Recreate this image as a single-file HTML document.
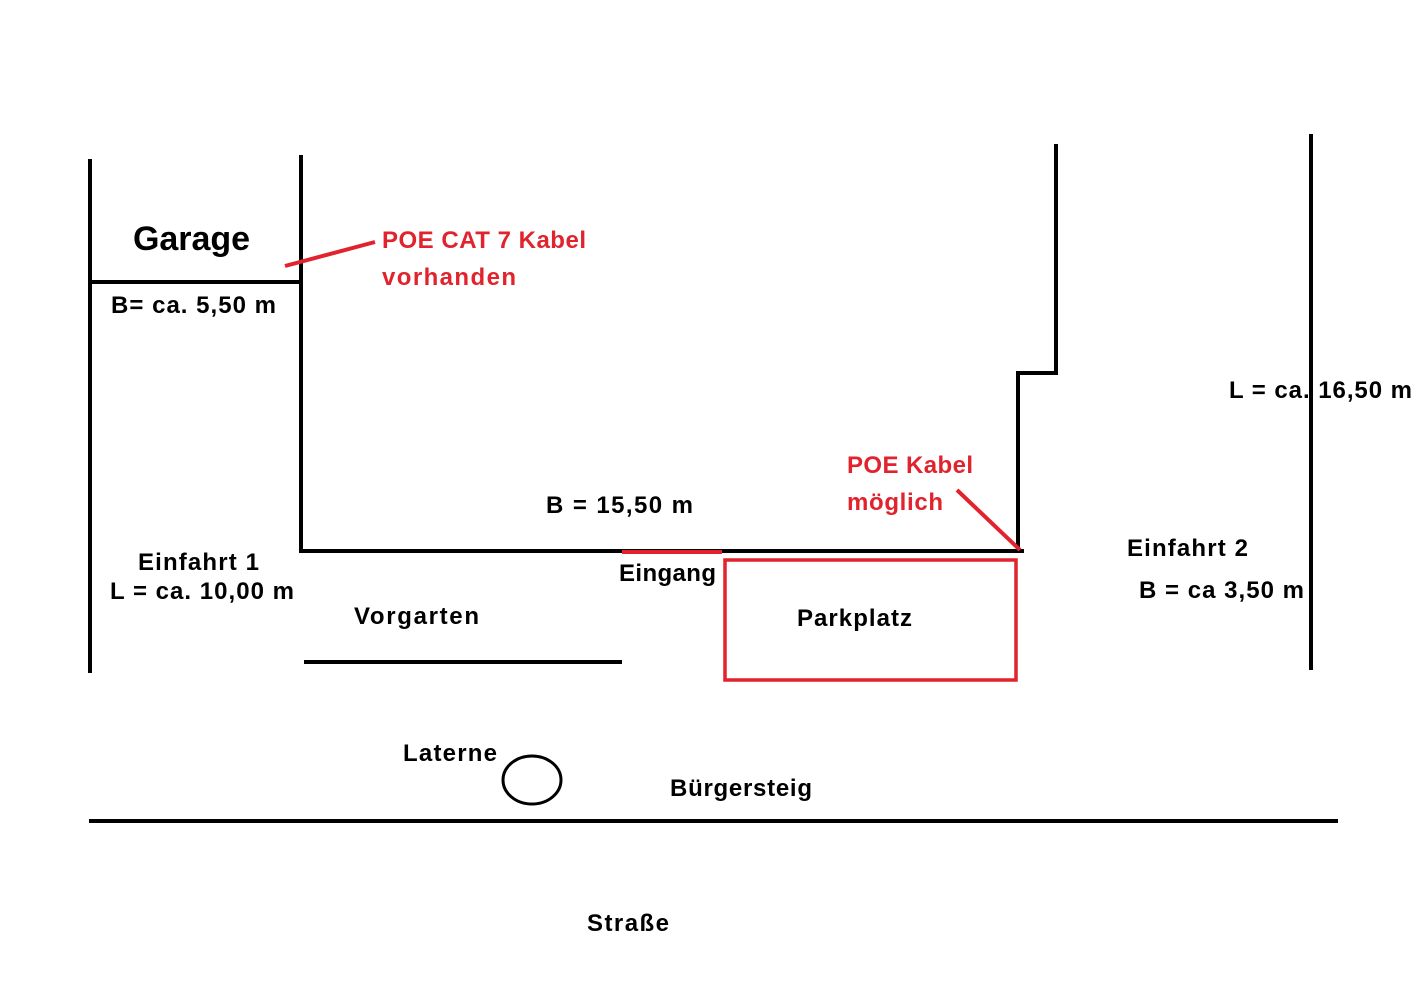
<!DOCTYPE html>
<html><head><meta charset="utf-8"><style>
html,body{margin:0;padding:0;background:#fff;width:1428px;height:998px;overflow:hidden}
text{font-family:"Liberation Sans","DejaVu Sans",sans-serif;font-weight:bold;font-size:24px}
</style></head><body>
<svg width="1428" height="998" viewBox="0 0 1428 998" xmlns="http://www.w3.org/2000/svg">
<g stroke="#000" stroke-width="4" fill="none">
<line x1="90" y1="159" x2="90" y2="673"/>
<line x1="301" y1="155" x2="301" y2="553"/>
<line x1="90" y1="282" x2="303" y2="282"/>
<line x1="299" y1="551" x2="1024" y2="551"/>
<line x1="1056" y1="144" x2="1056" y2="375"/>
<line x1="1016" y1="373" x2="1058" y2="373"/>
<line x1="1018" y1="371" x2="1018" y2="553"/>
<line x1="1311" y1="134" x2="1311" y2="670"/>
<line x1="304" y1="662" x2="622" y2="662"/>
<line x1="89" y1="821" x2="1338" y2="821"/>
<ellipse cx="532" cy="780" rx="29" ry="24" stroke-width="3"/>
</g>
<g stroke="#e0232c" stroke-width="4" fill="none">
<line x1="285" y1="266" x2="375" y2="242"/>
<line x1="622" y1="552" x2="722" y2="552"/>
<rect x="725" y="560" width="291" height="120" stroke-width="3.5"/>
<line x1="957" y1="490" x2="1020" y2="550"/>
</g>
<g fill="#000">
<text x="133" y="250" style="font-size:34px" textLength="117">Garage</text>
<text x="111" y="313" textLength="165">B= ca. 5,50 m</text>
<text x="546" y="513" textLength="147">B = 15,50  m</text>
<text x="138" y="570" textLength="121">Einfahrt 1</text>
<text x="110" y="599" textLength="184">L = ca. 10,00 m</text>
<text x="619" y="581" textLength="97">Eingang</text>
<text x="354" y="624" textLength="125">Vorgarten</text>
<text x="797" y="626" textLength="115">Parkplatz</text>
<text x="1229" y="398" textLength="183">L = ca. 16,50 m</text>
<text x="1127" y="556" textLength="121">Einfahrt 2</text>
<text x="1139" y="598" textLength="165">B = ca 3,50 m</text>
<text x="403" y="761" textLength="94">Laterne</text>
<text x="670" y="796" textLength="142">Bürgersteig</text>
<text x="587" y="931" textLength="82">Straße</text>
</g>
<g fill="#e0232c">
<text x="382" y="248" textLength="204">POE CAT 7 Kabel</text>
<text x="382" y="285" textLength="134">vorhanden</text>
<text x="847" y="473" textLength="126">POE Kabel</text>
<text x="847" y="510" textLength="96">möglich</text>
</g>
</svg>
</body></html>
